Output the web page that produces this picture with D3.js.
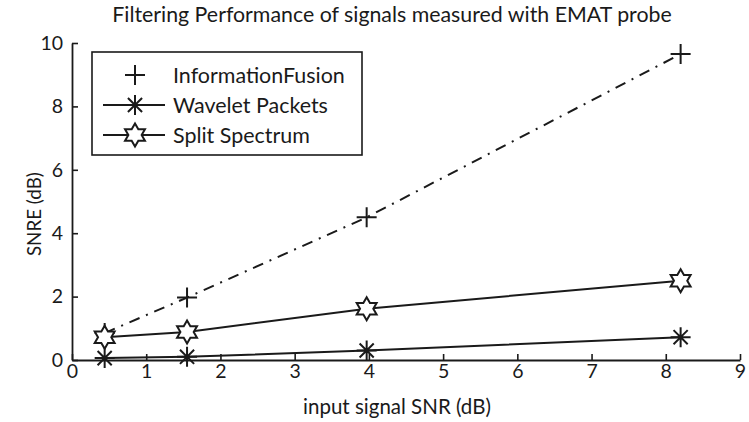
<!DOCTYPE html>
<html>
<head>
<meta charset="utf-8">
<script src="https://cdnjs.cloudflare.com/ajax/libs/d3/7.8.5/d3.min.js"></script>
<style>
  body { margin: 0; background: #fff; }
  text { font-family: Lato, "Open Sans", sans-serif; fill: #1a1a1a; }
</style>
</head>
<body>
<div id="chart"></div>
<script>
// values
var input_snr = [0.44, 1.55, 3.97, 8.2];
var fusion_snre = [0.85, 1.97, 4.5, 9.65];
var wavelet_snre = [0.06, 0.1, 0.3, 0.72];
var split_snre = [0.72, 0.88, 1.62, 2.5];
var series_names = ["InformationFusion", "Wavelet Packets", "Split Spectrum"];
var x_ticks = [0, 1, 2, 3, 4, 5, 6, 7, 8, 9];
var y_ticks = [0, 2, 4, 6, 8, 10];

var width = 749, height = 422;
var margin = {top: 43, right: 9, bottom: 62, left: 72};
var ink = "#1a1a1a";

var svg = d3.select("#chart").append("svg")
    .attr("width", width)
    .attr("height", height);

var x = d3.scaleLinear().domain([0, 9]).range([margin.left, width - margin.right]);
var y = d3.scaleLinear().domain([0, 10]).range([height - margin.bottom, margin.top]);

// shrink/grow font so a text gets the width it has in the picture
function fitWidth(sel, target) {
    var w = sel.node().getComputedTextLength();
    var fs = parseFloat(sel.attr("font-size"));
    sel.attr("font-size", fs * target / w);
}

// axes, ticks pointing inward like matlab
var xAxis = svg.append("g")
    .attr("transform", "translate(0," + y(0) + ")")
    .call(d3.axisBottom(x).tickValues(x_ticks).tickSizeInner(-6).tickSizeOuter(0).tickPadding(4));
var yAxis = svg.append("g")
    .attr("transform", "translate(" + x(0) + ",0)")
    .call(d3.axisLeft(y).tickValues(y_ticks).tickSizeInner(-6).tickSizeOuter(0).tickPadding(9));

[xAxis, yAxis].forEach(function(a) {
    a.select(".domain").attr("stroke", ink).attr("stroke-width", 1.8);
    a.selectAll(".tick line").attr("stroke", ink).attr("stroke-width", 1.6);
    a.selectAll(".tick text").attr("font-size", 19.5).attr("fill", ink)
        .style("font-family", "Lato, sans-serif");
});

// titles
var title = svg.append("text")
    .attr("x", 392).attr("y", 22)
    .attr("text-anchor", "middle")
    .attr("font-size", 18)
    .text("Filtering Performance of signals measured with EMAT probe");
fitWidth(title, 560);

var xlab = svg.append("text")
    .attr("x", 397).attr("y", 414)
    .attr("text-anchor", "middle")
    .attr("font-size", 18)
    .text("input signal SNR (dB)");
fitWidth(xlab, 188);

var ylab = svg.append("text")
    .attr("transform", "translate(41," + y(4.6) + ") rotate(-90)")
    .attr("text-anchor", "middle")
    .attr("font-size", 18)
    .text("SNRE (dB)");
fitWidth(ylab, 84);

// marker shapes
function plusPath(s) {
    return "M" + (-s) + ",0H" + s + "M0," + (-s) + "V" + s;
}
function asteriskPath(s) {
    var d = s * Math.SQRT1_2;
    return "M" + (-s) + ",0H" + s + "M0," + (-s) + "V" + s +
        "M" + (-d) + "," + (-d) + "L" + d + "," + d +
        "M" + (-d) + "," + d + "L" + d + "," + (-d);
}
function hexagramPath(s) {
    var pts = [];
    for (var i = 0; i < 12; i++) {
        var r = (i % 2 == 0) ? s : s / Math.sqrt(3);
        var a = -Math.PI / 2 + i * Math.PI / 6;
        pts.push([r * Math.cos(a), r * Math.sin(a)]);
    }
    return "M" + pts.join("L") + "Z";
}

var series = [
    {name: series_names[0], values: fusion_snre, dash: "11,7,2,7", marker: plusPath(10), fill: "none"},
    {name: series_names[1], values: wavelet_snre, dash: null, marker: asteriskPath(10), fill: "none"},
    {name: series_names[2], values: split_snre, dash: null, marker: hexagramPath(11.5), fill: "#fff"}
];

var line = d3.line()
    .x(function(d) { return x(d[0]); })
    .y(function(d) { return y(d[1]); });

series.forEach(function(s) {
    var pts = d3.zip(input_snr, s.values);
    svg.append("path")
        .attr("d", line(pts))
        .attr("fill", "none")
        .attr("stroke", ink)
        .attr("stroke-width", 2)
        .attr("stroke-dasharray", s.dash);
    svg.selectAll(null)
        .data(pts)
        .enter()
        .append("path")
        .attr("transform", function(d) { return "translate(" + x(d[0]) + "," + y(d[1]) + ")"; })
        .attr("d", s.marker)
        .attr("fill", s.fill)
        .attr("stroke", ink)
        .attr("stroke-width", 2);
});

// legend
var legend = svg.append("g").attr("transform", "translate(92,52)");
legend.append("rect")
    .attr("width", 270).attr("height", 103)
    .attr("fill", "#fff")
    .attr("stroke", ink)
    .attr("stroke-width", 1.6);
series.forEach(function(s, i) {
    var row = legend.append("g").attr("transform", "translate(0," + (23 + i * 30) + ")");
    if (s.dash == null) {
        row.append("line")
            .attr("x1", 11).attr("x2", 73)
            .attr("stroke", ink).attr("stroke-width", 2);
    }
    row.append("path")
        .attr("transform", "translate(43,0)")
        .attr("d", s.marker)
        .attr("fill", s.fill)
        .attr("stroke", ink)
        .attr("stroke-width", 2);
    var t = row.append("text")
        .attr("x", 81).attr("dy", "0.36em")
        .attr("font-size", 18)
        .text(s.name);
    if (i == 0) fitWidth(t, 172);
    else t.attr("font-size", legend.select("text").attr("font-size"));
});
</script>
</body>
</html>
